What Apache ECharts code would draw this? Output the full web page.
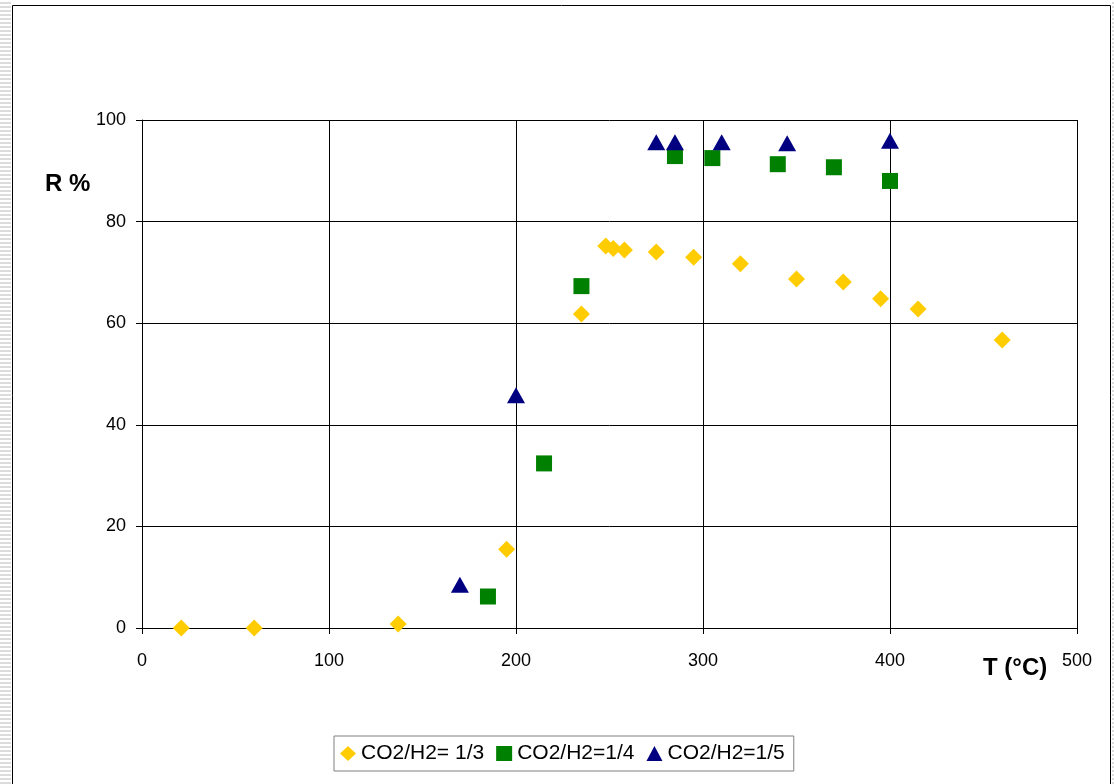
<!DOCTYPE html>
<html>
<head>
<meta charset="utf-8">
<script src="https://cdn.jsdelivr.net/npm/echarts@6/dist/echarts.min.js"></script>
<style>
html,body{margin:0;padding:0;background:#fff;}
#stripL{position:absolute;left:0;top:0;width:11px;height:784px;background:repeating-linear-gradient(to bottom,#fff 0px,#fff 2px,#dcdcdc 2px,#dcdcdc 4px);}
#stripR{position:absolute;left:1112px;top:0;width:2px;height:784px;background:repeating-linear-gradient(to bottom,#fff 0px,#fff 2px,#dcdcdc 2px,#dcdcdc 4px);}
#chart{position:absolute;left:0;top:0;width:1114px;height:784px;}
</style>
</head>
<body>
<div id="stripL"></div>
<div id="stripR"></div>
<div id="chart"></div>
<script>
// Data
const seriesNames = ['CO2/H2= 1/3', 'CO2/H2=1/4', 'CO2/H2=1/5'];
const ratio13 = [
  [21, 0], [60, 0], [137, 0.8], [195, 15.5], [235, 61.8], [248, 75.2], [252, 74.7],
  [258, 74.4], [275, 74.0], [295, 73.0], [320, 71.7], [350, 68.7], [375, 68.1],
  [395, 64.8], [415, 62.8], [460, 56.7]
];
const ratio14 = [
  [185, 6.2], [215, 32.4], [235, 67.3], [285, 92.9], [305, 92.5], [340, 91.3],
  [370, 90.7], [400, 88.0]
];
const ratio15 = [
  [170, 8.5], [200, 45.8], [275, 95.6], [285, 95.6], [310, 95.6], [345, 95.4], [400, 95.9]
];
const xTicks = { min: 0, max: 500, interval: 100 };
const yTicks = { min: 0, max: 100, interval: 20 };

const chart = echarts.init(document.getElementById('chart'), null, { renderer: 'canvas' });
const font = 'Liberation Sans, Arial, sans-serif';
chart.setOption({
  animation: false,
  backgroundColor: 'transparent',
  grid: { left: 142, right: 37, top: 120, bottom: 156, containLabel: false },
  xAxis: {
    type: 'value', min: xTicks.min, max: xTicks.max, interval: xTicks.interval,
    axisLine: { show: true, lineStyle: { color: '#000', width: 1 } },
    axisTick: { show: true, length: 6, inside: false, lineStyle: { color: '#000' } },
    axisLabel: { margin: 24, color: '#000', fontSize: 18, fontFamily: font },
    splitLine: { show: true, lineStyle: { color: '#000', width: 1 } }
  },
  yAxis: {
    type: 'value', min: yTicks.min, max: yTicks.max, interval: yTicks.interval,
    axisLine: { show: true, onZero: false, lineStyle: { color: '#000', width: 1 } },
    axisTick: { show: true, length: 6, inside: false, lineStyle: { color: '#000' } },
    axisLabel: { margin: 16, color: '#000', fontSize: 18, fontFamily: font },
    splitLine: { show: true, lineStyle: { color: '#000', width: 1 } }
  },
  legend: {
    left: 334, top: 736, orient: 'horizontal',
    padding: [7, 9, 7, 6], itemGap: 12, itemWidth: 16, itemHeight: 15,
    borderColor: '#808080', borderWidth: 1, backgroundColor: '#fff',
    textStyle: { color: '#000', fontSize: 21, fontFamily: font },
    data: [
      { name: seriesNames[0], icon: 'diamond' },
      { name: seriesNames[1], icon: 'rect' },
      { name: seriesNames[2], icon: 'triangle' }
    ]
  },
  graphic: [
    { type: 'rect', silent: true, z: -1, shape: { x: 12.5, y: 5.5, width: 1098, height: 800 },
      style: { fill: null, stroke: '#000', lineWidth: 1 } },
    { type: 'text', left: 45, top: 172, style: { text: 'R %', font: 'bold 24px Liberation Sans, Arial, sans-serif', fill: '#000' } },
    { type: 'text', left: 983, top: 656, style: { text: 'T (°C)', font: 'bold 24px Liberation Sans, Arial, sans-serif', fill: '#000' } }
  ],
  series: [
    { name: seriesNames[0], type: 'scatter', data: ratio13, symbol: 'diamond', symbolSize: 17,
      itemStyle: { color: '#FFCC00', opacity: 1 }, z: 3 },
    { name: seriesNames[1], type: 'scatter', data: ratio14, symbol: 'rect', symbolSize: 16,
      itemStyle: { color: '#008000', opacity: 1 }, z: 4 },
    { name: seriesNames[2], type: 'scatter', data: ratio15, symbol: 'triangle', symbolSize: [18, 16],
      itemStyle: { color: '#000080', opacity: 1 }, z: 5 }
  ]
});
</script>
</body>
</html>
